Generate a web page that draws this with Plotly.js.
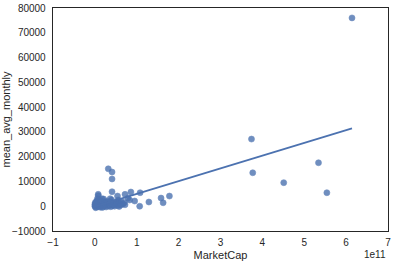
<!DOCTYPE html>
<html>
<head>
<meta charset="utf-8">
<script src="https://cdn.plot.ly/plotly-3.0.1.min.js"></script>
<style>html,body{margin:0;padding:0;background:#fff;}#chart{width:393px;height:267px;}</style>
</head>
<body>
<div id="chart"></div>
<script>
// MarketCap values (in units of 1e11)
const marketCap = [
  6.14, 3.74, 3.77, 4.51, 5.34, 5.54,
  0.32, 0.41, 0.41, 0.41, 0.08, 0.54, 0.72, 0.86, 1.08, 0.17, 0.365, 0.06,
  0.79, 0.83, 0.95, 1.29, 1.58, 1.63, 1.78, 1.07, 0.67, 0.72, 0.53, 0.245,
  0.21, 0.40, 0.56, 0.63, 0.08,
  0.00, 0.02, 0.03, 0.05, 0.06, 0.08, 0.10, 0.12, 0.13, 0.15, 0.17, 0.19,
  0.20, 0.22, 0.25, 0.27, 0.29, 0.31, 0.33, 0.35, 0.38, 0.40, 0.42, 0.45,
  0.47, 0.50, 0.55, 0.60, 0.01, 0.04, 0.02, 0.07, 0.10, 0.14, 0.00, 0.01,
  0.03, 0.18, 0.23, 0.30, 0.36, 0.44, 0.52, 0.58, 0.62, 0.70
];
const meanAvgMonthly = [
  76000, 27100, 13500, 9500, 17550, 5450,
  15100, 13800, 11000, 5850, 4800, 4100, 4800, 5730, 5450, 3030, 3030, 3030,
  3200, 2500, 2100, 1700, 3300, 1400, 4100, 0, 900, 600, 1800, 1800,
  2900, 2500, 2500, 1800, 4200,
  0, 200, -300, 500, 1000, -200, 300, 700, -400, 100, 1200, 400,
  -100, 800, 200, -300, 600, 1300, 100, 500, -200, 900, 300, 1500,
  0, 700, 300, 1100, 1500, 2000, -600, 2300, 1600, 2100, 800, 400,
  1200, -500, 1400, 2000, 1700, 600, 1200, -100, 500, 1500
];
const xTickVals = [-1, 0, 1, 2, 3, 4, 5, 6, 7];
const xTickText = ["\u22121", "0", "1", "2", "3", "4", "5", "6", "7"];
const yTickVals = [-10000, 0, 10000, 20000, 30000, 40000, 50000, 60000, 70000, 80000];
const yTickText = ["\u221210000", "0", "10000", "20000", "30000", "40000", "50000", "60000", "70000", "80000"];
const scale = 1e11;

const xs = marketCap.map(v => v * scale);

// OLS fit
const n = xs.length;
const mx = xs.reduce((a, b) => a + b, 0) / n;
const my = meanAvgMonthly.reduce((a, b) => a + b, 0) / n;
let sxy = 0, sxx = 0;
for (let i = 0; i < n; i++) { sxy += (xs[i] - mx) * (meanAvgMonthly[i] - my); sxx += (xs[i] - mx) ** 2; }
const slope = sxy / sxx;
const intercept = my - slope * mx;
const xmin = Math.min(...xs), xmax = Math.max(...xs);
const fitX = [xmin, xmax];
const fitY = fitX.map(x => intercept + slope * x);

const color = '#4C72B0';
const traces = [
  {x: xs, y: meanAvgMonthly, type: 'scatter', mode: 'markers',
   marker: {color: color, size: 6, opacity: 0.8, line: {color: color, width: 0.6}},
   hoverinfo: 'none', showlegend: false},
  {x: fitX, y: fitY, type: 'scatter', mode: 'lines',
   line: {color: color, width: 1.8}, hoverinfo: 'none', showlegend: false}
];

const tickFont = {family: 'Liberation Sans, Arial, sans-serif', size: 10, color: '#262626'};
const layout = {
  width: 393, height: 267,
  margin: {l: 53, r: 5, t: 8, b: 36},
  paper_bgcolor: '#fff', plot_bgcolor: '#fff',
  showlegend: false,
  xaxis: {
    range: [-1 * scale, 7 * scale],
    tickvals: xTickVals.map(v => v * scale), ticktext: xTickText,
    showgrid: false, zeroline: false, ticks: '',
    showline: true, mirror: true, linecolor: '#262626', linewidth: 1.3,
    tickfont: tickFont, ticklabelstandoff: 2,
    title: {text: 'MarketCap', font: {family: 'Liberation Sans, Arial, sans-serif', size: 11, color: '#262626'}, standoff: 4}
  },
  yaxis: {
    range: [-10000, 80000],
    tickvals: yTickVals, ticktext: yTickText,
    showgrid: false, zeroline: false, ticks: '',
    showline: true, mirror: true, linecolor: '#262626', linewidth: 1.3,
    tickfont: tickFont, ticklabelstandoff: 4,
    title: {text: 'mean_avg_monthly', font: {family: 'Liberation Sans, Arial, sans-serif', size: 11, color: '#262626'}, standoff: 4}
  },
  annotations: [{
    text: '1e11', xref: 'paper', yref: 'paper', x: 1, y: 0, yshift: -16,
    xanchor: 'right', yanchor: 'top', showarrow: false,
    font: {family: 'Liberation Sans, Arial, sans-serif', size: 10, color: '#262626'}
  }]
};

Plotly.newPlot('chart', traces, layout, {staticPlot: true, displayModeBar: false});
</script>
</body>
</html>
